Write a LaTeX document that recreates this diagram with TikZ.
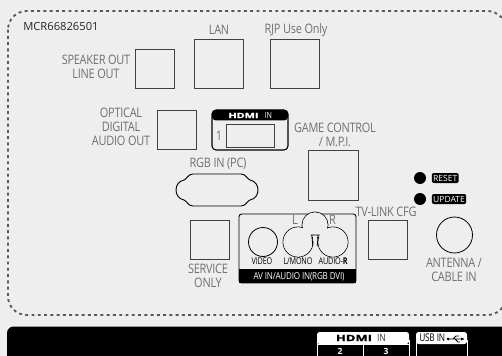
\documentclass[tikz,border=0pt]{standalone}
\usepackage{fontspec}
\setmainfont{Open Sans}
\newfontfamily\labelfont[FakeStretch=0.84,LetterSpace=-2]{Open Sans}
\newfontfamily\tinyfont[FakeStretch=0.78,LetterSpace=-2]{Open Sans}
\newfontfamily\hdmifont[FakeStretch=1.5,FakeBold=1.5]{Open Sans}
\usetikzlibrary{positioning}
\definecolor{panelgray}{HTML}{EEEEEE}
\definecolor{labelgray}{HTML}{707070}
\tikzset{
    portbox/.style={draw=black!75,line width=0.7pt,fill=panelgray,minimum width=#1,minimum height=#1,inner sep=0pt,anchor=north west},
    portlabel/.style={text=labelgray,font=\fontsize{9.8}{10.3}\selectfont\labelfont,align=center,inner sep=0pt},
    jacklabel/.style={text=black,font=\fontsize{7}{7}\selectfont\tinyfont,inner sep=0pt},
    blacktag/.style={fill=black,text=white,rounded corners=1.5pt,font=\fontsize{6.4}{7}\selectfont,inner sep=1pt,minimum height=7.5pt,anchor=west},
    leddot/.style={circle,fill=black,minimum size=9pt,inner sep=0pt},
    roundport/.style={circle,draw=black,line width=0.6pt,inner sep=0pt}
}
\newcommand{\hdmilogo}[3]{% position, colour, size
    \node[text=#2,font=\fontsize{#3}{#3}\selectfont\hdmifont\bfseries,inner sep=0pt] at (#1) {HDMI};}
\begin{document}
\begin{tikzpicture}[x=0.75pt,y=-0.75pt]
    % Background and outline
    \fill[panelgray] (0,0) rectangle (502,356);
    \useasboundingbox (0,0) rectangle (502,356);
    \draw[black!65,line width=1.4pt,dash pattern=on 2.2pt off 2.5pt,rounded corners=14pt] (8,11) rectangle (506,315);
    \fill[black,rounded corners=5pt] (7,326.5) -- (7,370) -- (520,370) -- (520,326.5) -- cycle;
    % Square ports
    \node[portbox=29.25pt] (speaker) at (135,49) {};
    \node[portbox=36.75pt] (lan) at (194,39) {};
    \node[portbox=36.75pt] (rjp) at (270,39) {};
    \node[portbox=29.25pt] (optical) at (157,110) {};
    \node[portbox=37.5pt] (game) at (308,150) {};
    \node[portbox=29.25pt] (service) at (190,220) {};
    \node[portbox=29.25pt] (tvlink) at (368,220) {};
    % Labels
    \node[font=\fontsize{8.4}{9}\selectfont,text=black!85,anchor=west,inner sep=0pt] (code) at (23,26) {MCR66826501};
    \node[portlabel] (speakertxt) at (96,67) {SPEAKER OUT\\LINE OUT};
    \node[portlabel] (lantxt) at (219,30) {LAN};
    \node[portlabel] (rjptxt) at (296,30) {RJP Use Only};
    \node[portlabel] (opticaltxt) at (121,127) {OPTICAL\\DIGITAL\\AUDIO OUT};
    \node[portlabel] (rgbtxt) at (218,164) {RGB IN (PC)};
    \node[portlabel] (gametxt) at (335,135) {GAME CONTROL\\/ M.P.I.};
    \node[portlabel] (servicetxt) at (208,276) {SERVICE\\ONLY};
    \node[portlabel] (tvlinktxt) at (386,212) {TV-LINK CFG};
    \node[portlabel] (antennatxt) at (454,270) {ANTENNA /\\CABLE IN};
    % HDMI 1 block
    \fill[black,rounded corners=3pt] (212,120.5) -- (212,110) -- (288,110) -- (288,120.5) -- cycle;
    \draw[black,line width=0.8pt,rounded corners=3pt] (212,110) rectangle (288,150);
    \hdmilogo{243.5,115.5}{white}{5.4}
    \node[text=white,font=\fontsize{6.4}{6}\selectfont\labelfont,inner sep=0pt] (hdmiin) at (268.5,115.5) {IN};
    \draw[black!75,line width=0.7pt] (226,124) rectangle (274,147);
    \node[portlabel] (one) at (219,136) {1};
    % RGB connector
    \draw[black,line width=0.7pt,fill=panelgray] (193,174) -- (241,174)
        .. controls (246,174) and (247,179) .. (250,180)
        .. controls (255,181) and (258,185) .. (258,190)
        .. controls (258,195) and (255,199) .. (250,200)
        .. controls (247,201) and (246,206) .. (241,206)
        -- (193,206)
        .. controls (188,206) and (187,201) .. (184,200)
        .. controls (179,199) and (176,195) .. (176,190)
        .. controls (176,185) and (179,181) .. (184,180)
        .. controls (187,179) and (188,174) .. (193,174) -- cycle;
    % AV block
    \draw[black,line width=0.7pt,rounded corners=2pt] (239,214) rectangle (356,283);
    \fill[black] (239,269) rectangle (356,283);
    \node[text=white,font=\fontsize{7.2}{7}\selectfont\labelfont,inner sep=0pt] (avtxt) at (299,276.5) {AV IN/AUDIO IN(RGB DVI)};
    \node[roundport,minimum size=21.75pt] (video) at (263,242) {};
    \node[roundport,minimum size=22.5pt] (lmono) at (298,242) {};
    \node[roundport,minimum size=22.5pt] (audior) at (333,242) {};
    \node[roundport,minimum size=19.5pt] (topport) at (315,225) {};
    \fill[panelgray] (lmono) circle (14.6);
    \fill[panelgray] (audior) circle (14.6);
    \fill[panelgray] (topport) circle (12.6);
    \fill[panelgray] (313,235.4) rectangle (317,241);
    \draw[black,line width=0.6pt] (310.5,235) -- (319.5,235) (311.8,235) -- (312.8,246) (318.2,235) -- (317.2,246);
    \node[jacklabel] (videotxt) at (262,261.5) {VIDEO};
    \node[jacklabel] (lmonotxt) at (298,261.5) {L/MONO};
    \node[jacklabel] (audiortxt) at (333,261.5) {AUDIO-\textbf{R}};
    \node[portlabel] (ltxt) at (295,220) {L};
    \node[portlabel] (rtxt) at (332.5,220) {R};
    % Buttons
    \node[leddot] (resetdot) at (420,178) {};
    \node[leddot] (updatedot) at (420,199) {};
    \node[blacktag,right=4pt of resetdot] (resettxt) {RESET};
    \node[blacktag,right=4pt of updatedot] (updatetxt) {UPDATE};
    % Antenna
    \node[roundport,minimum size=27pt] (antenna) at (454.5,235) {};
    % Bottom strip
    \fill[white,rounded corners=2pt] (317,344) -- (317,332) -- (409,332) -- (409,344) -- cycle;
    \draw[white,line width=0.7pt] (317,340) -- (317,356) (363,344) -- (363,356) (409,340) -- (409,356) (317,344) -- (409,344);
    \hdmilogo{354,338}{black}{6.5}
    \node[text=black!80,font=\fontsize{7.6}{7}\selectfont\labelfont,inner sep=0pt] (hdmiinb) at (381.5,338) {IN};
    \node[text=white,font=\fontsize{6.4}{7}\selectfont\bfseries,inner sep=0pt] (two) at (340,351) {2};
    \node[text=white,font=\fontsize{6.4}{7}\selectfont\bfseries,inner sep=0pt] (three) at (386,351) {3};
    \fill[white,rounded corners=2pt] (416,344) -- (416,332) -- (467,332) -- (467,344) -- cycle;
    \draw[white,line width=0.7pt] (416,340) -- (416,356) (467,340) -- (467,356);
    \node[text=black,font=\fontsize{8}{8}\selectfont\tinyfont,anchor=west,inner sep=0pt] (usbtxt) at (419,338) {USB IN};
    % USB symbol
    \draw[black,line width=0.6pt] (448,339) -- (464,339) (453,339) -- (456,336) -- (459,336) (455,339) -- (458,342) -- (460,342);
    \fill[black] (448,339) circle (1.5) (464,339) -- (461,337.5) -- (461,340.5) -- cycle;
\end{tikzpicture}
\end{document}
